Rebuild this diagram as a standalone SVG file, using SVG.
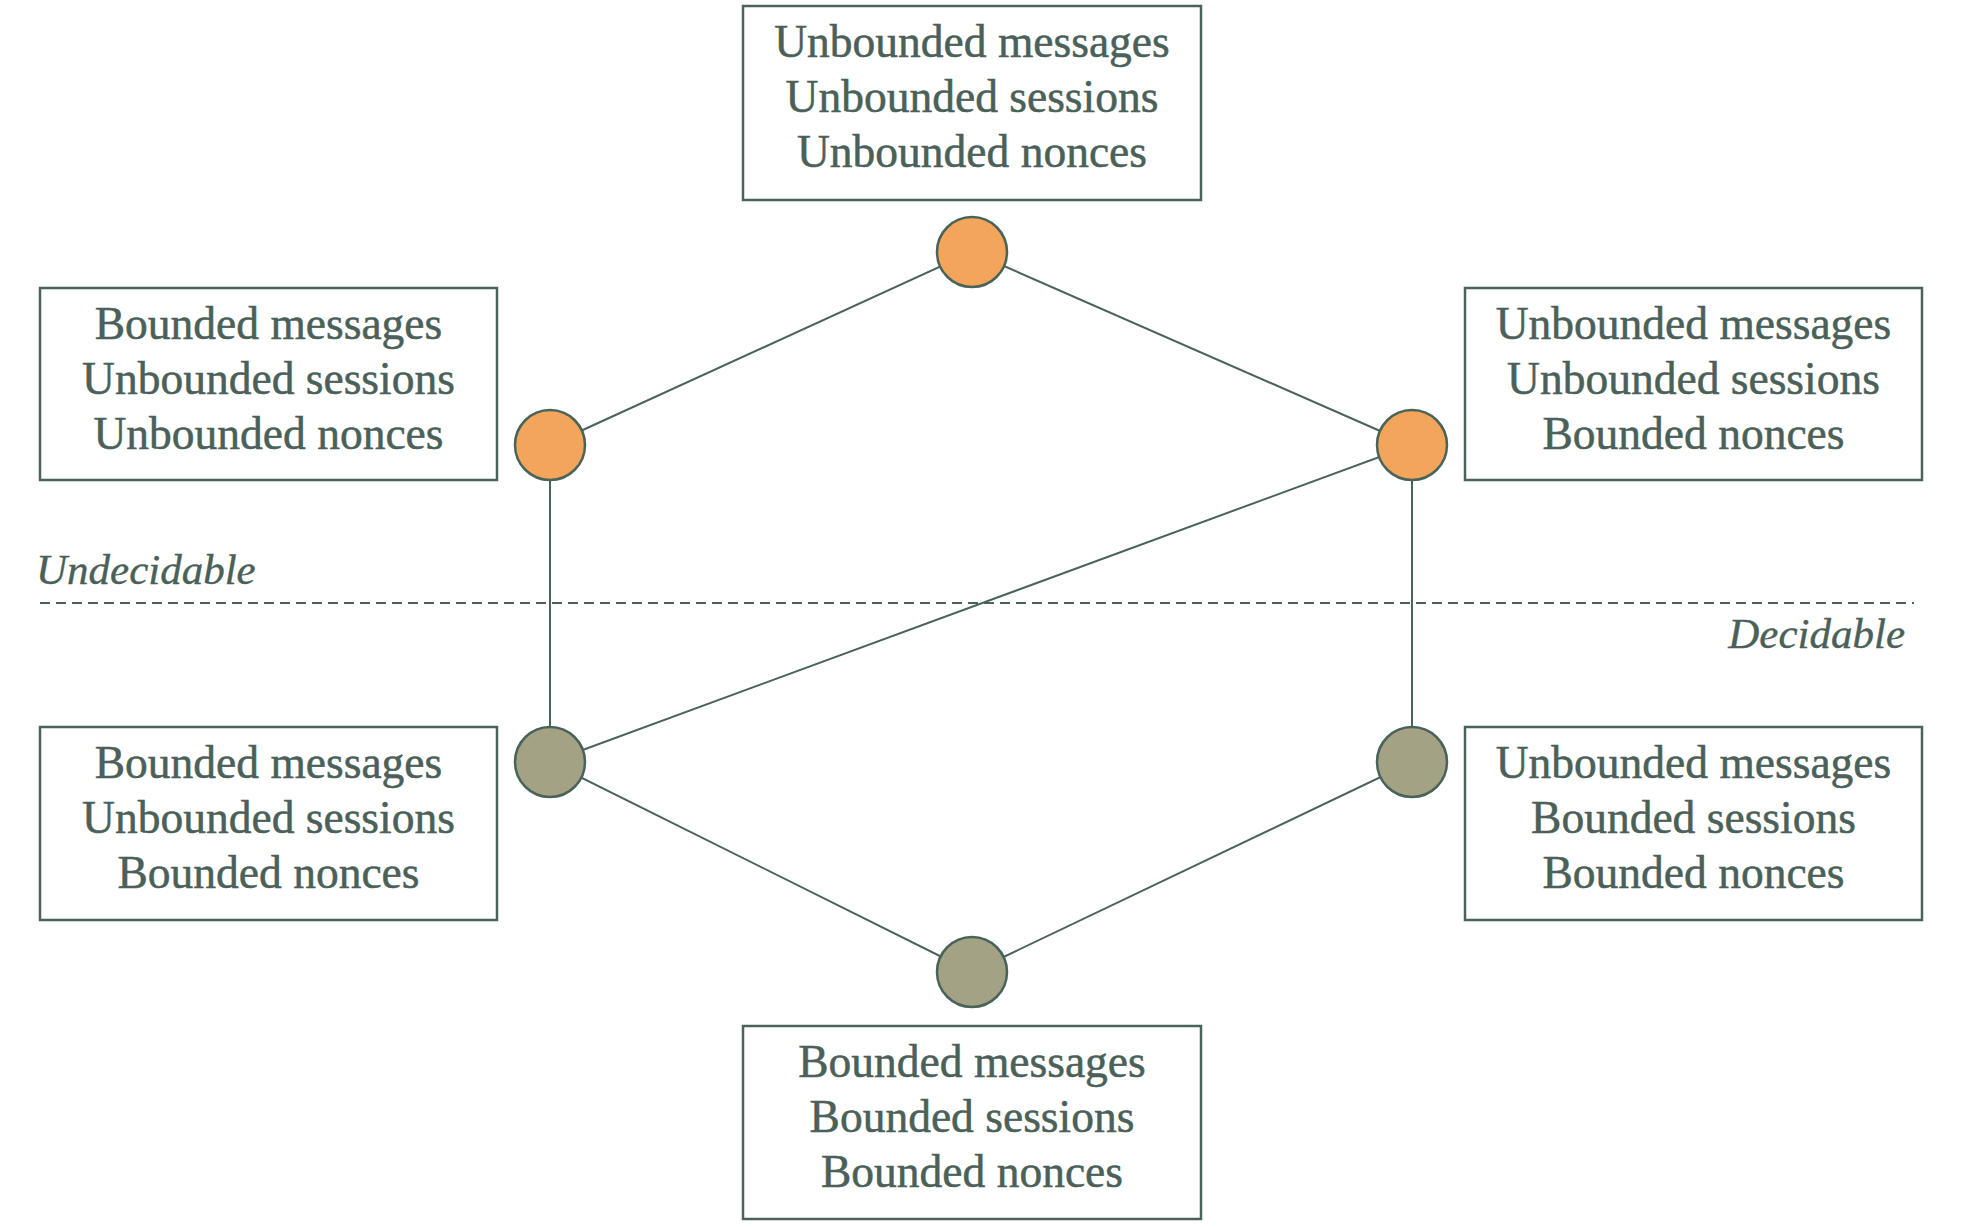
<svg xmlns="http://www.w3.org/2000/svg" width="1965" height="1227" viewBox="0 0 1965 1227">
<style>
.box{fill:#ffffff;stroke:#4a6359;stroke-width:2.5}
.lbl{font-family:"Liberation Serif","DejaVu Serif",serif;font-size:45.5px;fill:#4a6058;stroke:#4a6058;stroke-width:0.5;text-anchor:middle}
.it{font-family:"Liberation Serif","DejaVu Serif",serif;font-style:italic;font-size:43px;fill:#4a6058;stroke:#4a6058;stroke-width:0.4}
.edge{stroke:#4a6359;stroke-width:2;fill:none}
.und{fill:#f3a65b;stroke:#4a6359;stroke-width:2.5}
.dec{fill:#a3a285;stroke:#4a6359;stroke-width:2.5}
</style>
<rect width="1965" height="1227" fill="#ffffff"/>
<g id="divider">
<line x1="40" y1="603" x2="1914" y2="603" stroke="#4a6359" stroke-width="2" stroke-dasharray="10,6"/>
<text class="it" x="36" y="584">Undecidable</text>
<text class="it" x="1905" y="648" text-anchor="end">Decidable</text>
</g>
<g id="connectors">
<line class="edge" x1="972" y1="252" x2="550" y2="445"/>
<line class="edge" x1="972" y1="252" x2="1412" y2="445"/>
<line class="edge" x1="550" y1="445" x2="550" y2="762"/>
<line class="edge" x1="1412" y1="445" x2="1412" y2="762"/>
<line class="edge" x1="1412" y1="445" x2="550" y2="762"/>
<line class="edge" x1="550" y1="762" x2="972" y2="972"/>
<line class="edge" x1="1412" y1="762" x2="972" y2="972"/>
</g>
<g id="n-top">
<rect class="box" x="743" y="6" width="458" height="194"/>
<text class="lbl" x="972" y="57">Unbounded messages</text>
<text class="lbl" x="972" y="112">Unbounded sessions</text>
<text class="lbl" x="972" y="167">Unbounded nonces</text>
<circle class="und" cx="972" cy="252" r="35"/>
</g>
<g id="n-left-top">
<rect class="box" x="40" y="288" width="457" height="192"/>
<text class="lbl" x="268.5" y="339">Bounded messages</text>
<text class="lbl" x="268.5" y="394">Unbounded sessions</text>
<text class="lbl" x="268.5" y="449">Unbounded nonces</text>
<circle class="und" cx="550" cy="445" r="35"/>
</g>
<g id="n-right-top">
<rect class="box" x="1465" y="288" width="457" height="192"/>
<text class="lbl" x="1693.5" y="339">Unbounded messages</text>
<text class="lbl" x="1693.5" y="394">Unbounded sessions</text>
<text class="lbl" x="1693.5" y="449">Bounded nonces</text>
<circle class="und" cx="1412" cy="445" r="35"/>
</g>
<g id="n-left-bottom">
<rect class="box" x="40" y="727" width="457" height="193"/>
<text class="lbl" x="268.5" y="778">Bounded messages</text>
<text class="lbl" x="268.5" y="833">Unbounded sessions</text>
<text class="lbl" x="268.5" y="888">Bounded nonces</text>
<circle class="dec" cx="550" cy="762" r="35"/>
</g>
<g id="n-right-bottom">
<rect class="box" x="1465" y="727" width="457" height="193"/>
<text class="lbl" x="1693.5" y="778">Unbounded messages</text>
<text class="lbl" x="1693.5" y="833">Bounded sessions</text>
<text class="lbl" x="1693.5" y="888">Bounded nonces</text>
<circle class="dec" cx="1412" cy="762" r="35"/>
</g>
<g id="n-bottom">
<rect class="box" x="743" y="1026" width="458" height="193"/>
<text class="lbl" x="972" y="1077">Bounded messages</text>
<text class="lbl" x="972" y="1132">Bounded sessions</text>
<text class="lbl" x="972" y="1187">Bounded nonces</text>
<circle class="dec" cx="972" cy="972" r="35"/>
</g>
</svg>
